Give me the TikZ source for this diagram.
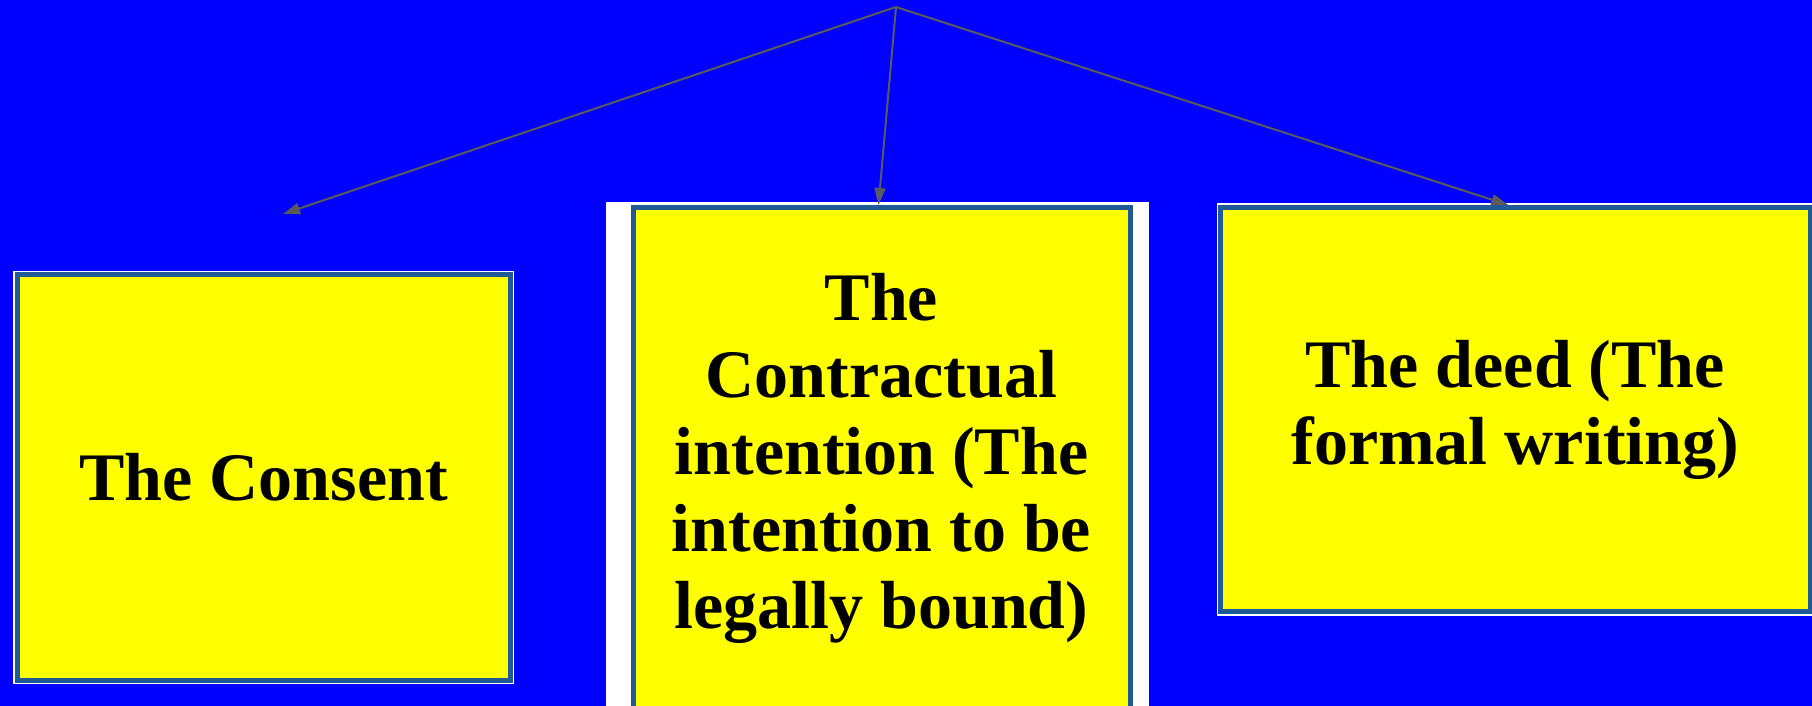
\documentclass[tikz,border=0pt]{standalone}
\usepackage{fontspec}
\setmainfont{Liberation Serif}
\usepackage{tikz}
\usetikzlibrary{arrows.meta}
\definecolor{slide}{HTML}{0000FF}
\definecolor{edge}{HTML}{1F5A96}
\definecolor{wire}{HTML}{5A5A5A}
\definecolor{cardfill}{HTML}{FFFF00}

\begin{document}
\begin{tikzpicture}[
  x=0.5pt, y=-0.5pt,
  font=\bfseries\fontsize{34pt}{38.5pt}\selectfont,
  card/.style={draw=edge, line width=2.5pt, fill=cardfill, inner sep=0pt,
    align=center, preaction={draw=white, line width=4pt}},
  link/.style={-{Triangle[length=8.5pt,width=5.5pt]}, draw=wire, line width=1pt},
]
  \useasboundingbox (0,0) rectangle (1812,706);
  \fill[slide] (0,0) rectangle (1812,706);
  \clip (0,0) rectangle (1812,706);

  % white panel behind the middle card
  \fill[white] (606,202) rectangle (1149,720);

  % cards
  \node[card, minimum width=246.5pt, minimum height=202.75pt]
    (consent) at (263.5,477.25) {The Consent};
  \node[card, minimum width=248.5pt, minimum height=251.25pt]
    (intent) at (881.5,458.75)
    {The\\Contractual\\intention (The\\intention to be\\legally bound)};
  \node[card, minimum width=294.75pt, minimum height=202pt]
    (deed) at (1515.25,409.5) {The deed (The\\formal writing)};

  % arrows
  \coordinate (root) at (896,7);
  \coordinate (consenttip) at (283,214);
  \draw[link] (root) -- (consenttip);
  \draw[link] (root) -- ([xshift=-1.5pt]intent.north);
  \draw[link] (root) -- ([xshift=-3.5pt]deed.north);
\end{tikzpicture}
\end{document}
